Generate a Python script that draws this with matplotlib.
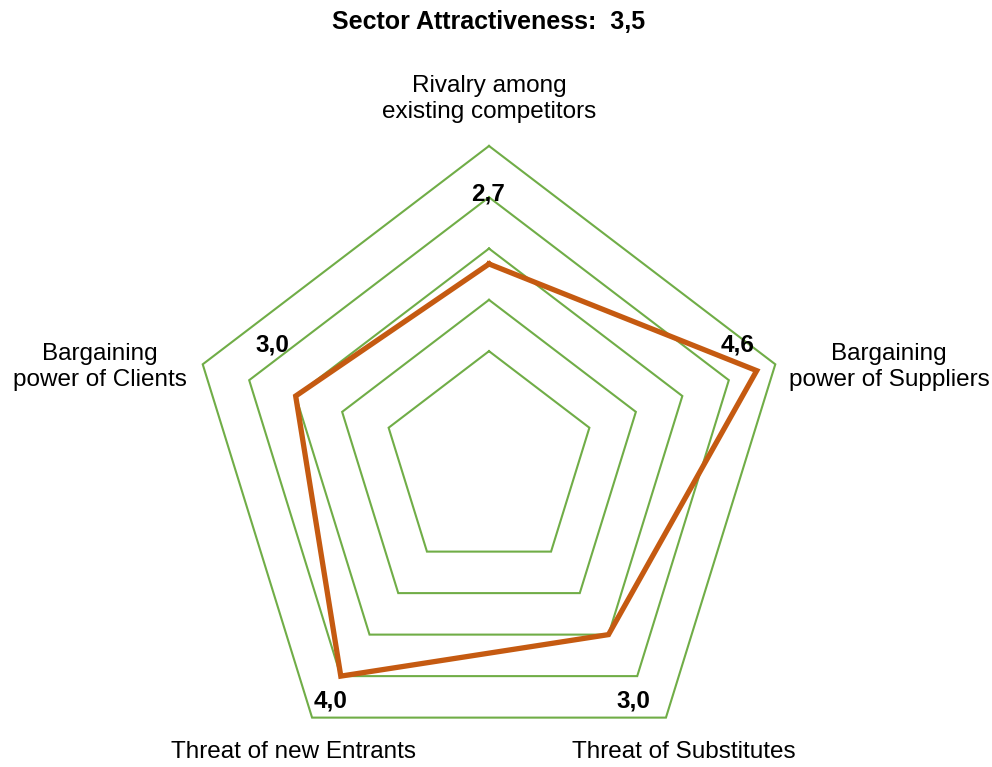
import matplotlib
matplotlib.use("Agg")
import matplotlib.pyplot as plt
import numpy as np

plt.rcParams['font.family'] = ['Liberation Sans', 'DejaVu Sans']

# ---- data ----
categories = ["Rivalry among\nexisting competitors",
              "Bargaining\npower of Suppliers",
              "Threat of Substitutes",
              "Threat of new Entrants",
              "Bargaining\npower of Clients"]
values = [2.7, 4.6, 3.0, 4.0, 3.0]
value_labels = ["2,7", "4,6", "3,0", "4,0", "3,0"]
grid_levels = [1, 2, 3, 4, 5]
title = "Sector Attractiveness:  3,5"

# ---- styling / layout ----
GREEN = "#70AD47"
ORANGE = "#C55A11"
FS = 17.5

fig = plt.figure(figsize=(9.92, 7.67), dpi=100)
ax = fig.add_axes([0.1895, -0.0143, 0.6069, 0.824], projection='polar')
ax.set_aspect('auto')
ax.set_theta_offset(np.pi / 2)
ax.set_theta_direction(-1)

n = len(categories)
angles = np.linspace(0, 2 * np.pi, n, endpoint=False)
ang_c = np.concatenate([angles, angles[:1]])

for lvl in grid_levels:
    ax.plot(ang_c, [lvl] * (n + 1), color=GREEN, lw=1.5, clip_on=False,
            solid_joinstyle='miter', zorder=2)

vals_c = values + values[:1]
ax.plot(ang_c, vals_c, color=ORANGE, lw=3.8, clip_on=False,
        solid_joinstyle='miter', zorder=3)

ax.set_ylim(-1.16, 5)
ax.grid(False)
ax.set_xticks([])
ax.set_yticks([])
ax.spines['polar'].set_visible(False)
ax.patch.set_visible(False)

# data labels (offsets in pixels from the data point)
val_offsets = [(-1, 70), (-19, 26), (25, -66), (-10, -25), (-23, 51)]
for a, v, lab, off in zip(angles, values, value_labels, val_offsets):
    ax.annotate(lab, xy=(a, v), xytext=off, textcoords='offset pixels',
                ha='center', va='center', fontsize=FS, fontweight='bold',
                annotation_clip=False)

# category labels (offsets in pixels from outer ring vertex)
cat_offsets = [(0, 47), (114, -3), (18, -34), (-19, -34), (-103, -3)]
for a, lab, off in zip(angles, categories, cat_offsets):
    ax.annotate(lab, xy=(a, grid_levels[-1]), xytext=off,
                textcoords='offset pixels', ha='center', va='center',
                fontsize=FS, linespacing=1.22, annotation_clip=False)

fig.text(489 / 992, 1 - 22 / 767, title, ha='center', va='center',
         fontsize=18, fontweight='bold')

fig.savefig("out.png", dpi=100)
